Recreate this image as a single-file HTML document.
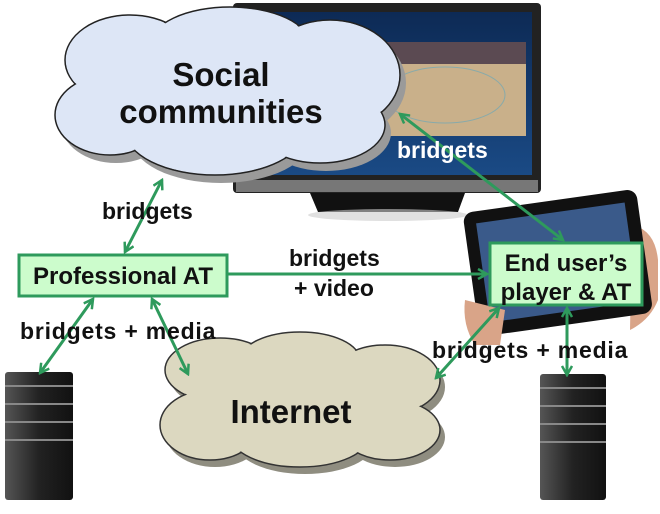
<!DOCTYPE html>
<html><head><meta charset="utf-8"><style>
body{margin:0;width:660px;height:514px;overflow:hidden;background:#fff;font-family:"Liberation Sans",Arial,sans-serif}
svg{display:block}
</style></head><body>
<svg width="660" height="514" viewBox="0 0 660 514" xmlns="http://www.w3.org/2000/svg">
<defs>
<marker id="a" viewBox="0 0 12 12" refX="10" refY="6" markerWidth="12" markerHeight="12" orient="auto-start-reverse" markerUnits="userSpaceOnUse">
<path d="M1,1 L10,6 L1,11" fill="none" stroke="#2e9a5c" stroke-width="2.5"/></marker>
<linearGradient id="srv" x1="0" x2="1"><stop offset="0" stop-color="#555"/><stop offset=".5" stop-color="#222"/><stop offset="1" stop-color="#111"/></linearGradient>
<linearGradient id="scr" x1="0" y1="0" x2="0" y2="1"><stop offset="0" stop-color="#0d2a55"/><stop offset="1" stop-color="#1a4a85"/></linearGradient>
</defs>
<!-- TV -->
<rect x="233" y="3" width="308" height="190" rx="4" fill="#222"/>
<rect x="236" y="180" width="302" height="12" fill="#777"/>
<rect x="244" y="12" width="288" height="163" fill="url(#scr)"/>
<rect x="368" y="42" width="158" height="94" fill="#c9b08a"/>
<rect x="368" y="42" width="158" height="22" fill="#5b4a52"/>
<ellipse cx="445" cy="95" rx="60" ry="28" fill="none" stroke="#8aa" stroke-width="1"/>
<path d="M310 193 L465 193 L458 212 L318 212 Z" fill="#111"/>
<ellipse cx="388" cy="215" rx="80" ry="6" fill="#ccc" opacity=".6"/>
<!-- Social cloud shadow -->
<g fill="#9a9a9a" transform="translate(6,8)">
<ellipse cx="130" cy="60" rx="65" ry="45"/><ellipse cx="230" cy="45" rx="80" ry="38"/><ellipse cx="330" cy="75" rx="70" ry="55"/>
<ellipse cx="110" cy="115" rx="55" ry="40"/><ellipse cx="215" cy="130" rx="90" ry="45"/><ellipse cx="320" cy="125" rx="65" ry="38"/>
</g>
<g fill="#dde6f6" stroke="#222" stroke-width="1.5">
<ellipse cx="130" cy="60" rx="65" ry="45"/><ellipse cx="230" cy="45" rx="80" ry="38"/><ellipse cx="330" cy="75" rx="70" ry="55"/>
<ellipse cx="110" cy="115" rx="55" ry="40"/><ellipse cx="215" cy="130" rx="90" ry="45"/><ellipse cx="320" cy="125" rx="65" ry="38"/>
</g>
<g fill="#dde6f6">
<ellipse cx="130" cy="60" rx="64" ry="44"/><ellipse cx="230" cy="45" rx="79" ry="37"/><ellipse cx="330" cy="75" rx="69" ry="54"/>
<ellipse cx="110" cy="115" rx="54" ry="39"/><ellipse cx="215" cy="130" rx="89" ry="44"/><ellipse cx="320" cy="125" rx="64" ry="37"/>
<rect x="120" y="60" width="220" height="80"/>
</g>
<text x="221" y="86" font-size="33" font-weight="bold" text-anchor="middle" fill="#111">Social</text>
<text x="221" y="123" font-size="33" font-weight="bold" text-anchor="middle" fill="#111">communities</text>
<!-- Internet cloud -->
<g fill="#8f8d80" transform="translate(5,7)">
<ellipse cx="220" cy="370" rx="55" ry="32"/><ellipse cx="300" cy="360" rx="60" ry="28"/><ellipse cx="385" cy="380" rx="55" ry="35"/>
<ellipse cx="210" cy="425" rx="50" ry="35"/><ellipse cx="300" cy="435" rx="70" ry="32"/><ellipse cx="390" cy="430" rx="50" ry="30"/>
</g>
<g fill="#dcd8c0" stroke="#333" stroke-width="1.5">
<ellipse cx="220" cy="370" rx="55" ry="32"/><ellipse cx="300" cy="360" rx="60" ry="28"/><ellipse cx="385" cy="380" rx="55" ry="35"/>
<ellipse cx="210" cy="425" rx="50" ry="35"/><ellipse cx="300" cy="435" rx="70" ry="32"/><ellipse cx="390" cy="430" rx="50" ry="30"/>
</g>
<g fill="#dcd8c0">
<ellipse cx="220" cy="370" rx="54" ry="31"/><ellipse cx="300" cy="360" rx="59" ry="27"/><ellipse cx="385" cy="380" rx="54" ry="34"/>
<ellipse cx="210" cy="425" rx="49" ry="34"/><ellipse cx="300" cy="435" rx="69" ry="31"/><ellipse cx="390" cy="430" rx="49" ry="29"/>
<rect x="210" y="370" width="180" height="60"/>
</g>
<text x="291" y="423" font-size="33" font-weight="bold" text-anchor="middle" fill="#111">Internet</text>
<!-- Tablet with hands -->
<path d="M632 225 Q655 230 658 260 L658 300 Q650 320 630 330 Z" fill="#d9a488"/>
<g transform="rotate(-8 560 260)">
<rect x="470" y="200" width="175" height="125" rx="10" fill="#111"/>
<rect x="482" y="212" width="150" height="100" fill="#3a5a8a"/>
</g>
<path d="M465 300 Q462 325 475 345 L500 345 L505 310 Z" fill="#d9a488"/>
<!-- Servers -->
<g>
<rect x="5" y="372" width="68" height="128" rx="3" fill="url(#srv)"/>
<rect x="5" y="385" width="68" height="2" fill="#888"/><rect x="5" y="403" width="68" height="2" fill="#888"/><rect x="5" y="421" width="68" height="2" fill="#888"/><rect x="5" y="439" width="68" height="2" fill="#888"/>
<rect x="540" y="374" width="66" height="126" rx="3" fill="url(#srv)"/>
<rect x="540" y="387" width="66" height="2" fill="#888"/><rect x="540" y="405" width="66" height="2" fill="#888"/><rect x="540" y="423" width="66" height="2" fill="#888"/><rect x="540" y="441" width="66" height="2" fill="#888"/>
</g>
<!-- Boxes -->
<rect x="19" y="255" width="208" height="41" fill="#ccfccc" stroke="#2e9a5c" stroke-width="3"/>
<text x="123" y="284" font-size="24" font-weight="bold" text-anchor="middle" fill="#111">Professional AT</text>
<rect x="490" y="243" width="152" height="62" fill="#ccfccc" stroke="#2e9a5c" stroke-width="3"/>
<text x="566" y="271" font-size="24" font-weight="bold" text-anchor="middle" fill="#111">End user’s</text>
<text x="566" y="300" font-size="24" font-weight="bold" text-anchor="middle" fill="#111">player &amp; AT</text>
<!-- Arrows -->
<g stroke="#2e9a5c" stroke-width="3" fill="none">
<line x1="125" y1="252" x2="162" y2="180" marker-start="url(#a)" marker-end="url(#a)"/>
<line x1="228" y1="274" x2="487" y2="274" marker-end="url(#a)"/>
<line x1="563" y1="240" x2="400" y2="114" marker-start="url(#a)" marker-end="url(#a)"/>
<line x1="93" y1="299" x2="40" y2="373" marker-start="url(#a)" marker-end="url(#a)"/>
<line x1="152" y1="299" x2="188" y2="374" marker-start="url(#a)" marker-end="url(#a)"/>
<line x1="499" y1="308" x2="436" y2="378" marker-start="url(#a)" marker-end="url(#a)"/>
<line x1="567" y1="308" x2="567" y2="375" marker-start="url(#a)" marker-end="url(#a)"/>
</g>
<!-- Labels -->
<g font-size="23" font-weight="bold" fill="#111">
<text x="102" y="219">bridgets</text>
<text x="397" y="158" fill="#fff">bridgets</text>
<text x="289" y="266">bridgets</text>
<text x="294" y="296">+ video</text>
<text x="20" y="339" letter-spacing="0.8">bridgets + media</text>
<text x="432" y="358" letter-spacing="0.8">bridgets + media</text>
</g>
</svg>
</body></html>
